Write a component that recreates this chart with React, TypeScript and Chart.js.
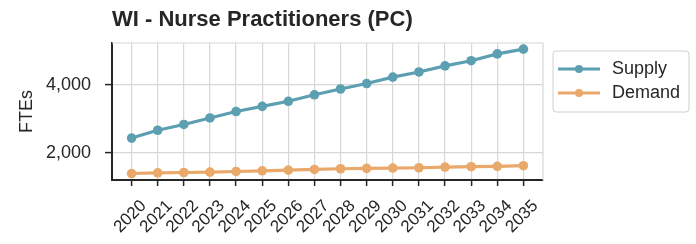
import React, { useEffect, useRef } from "react";
import { Chart, registerables } from "chart.js";

Chart.register(...registerables);

const years = [2020, 2021, 2022, 2023, 2024, 2025, 2026, 2027, 2028, 2029, 2030, 2031, 2032, 2033, 2034, 2035];
const supply = [2440, 2670, 2840, 3030, 3220, 3370, 3520, 3710, 3880, 4040, 4230, 4380, 4560, 4710, 4910, 5050];
const demand = [1400, 1420, 1430, 1440, 1460, 1480, 1500, 1520, 1540, 1550, 1560, 1570, 1590, 1600, 1610, 1630];
const yTicks = [2000, 4000];
const seriesNames = ["Supply", "Demand"];
const titleText = "WI - Nurse Practitioners (PC)";
const yLabel = "FTEs";

const SUPPLY_COLOR = "#5c9fb1";
const DEMAND_COLOR = "#eaa96b";
const TEXT_COLOR = "#262626";
const GRID_COLOR = "#d8d8d8";
const FONT = "'Liberation Sans', Arial, sans-serif";

const decorPlugin = {
  id: "decor",
  beforeDatasetsDraw(chart: any) {
    const { ctx, chartArea } = chart;
    ctx.save();
    ctx.strokeStyle = GRID_COLOR;
    ctx.lineWidth = 1.2;
    ctx.beginPath();
    ctx.moveTo(chartArea.left, chartArea.top);
    ctx.lineTo(chartArea.right, chartArea.top);
    ctx.lineTo(chartArea.right, chartArea.bottom);
    ctx.stroke();
    ctx.restore();
  },
  afterDraw(chart: any) {
    const { ctx, chartArea } = chart;
    ctx.save();
    // title
    ctx.fillStyle = TEXT_COLOR;
    ctx.font = `bold 22px ${FONT}`;
    ctx.textAlign = "left";
    ctx.textBaseline = "middle";
    ctx.fillText(titleText, chartArea.left, 20);

    // legend
    const lx = chartArea.right + 10;
    const ly = 51;
    const lw = 136;
    const lh = 61;
    ctx.strokeStyle = "#d0d0d0";
    ctx.lineWidth = 1;
    ctx.fillStyle = "rgba(255,255,255,0.85)";
    const r = 3;
    ctx.beginPath();
    ctx.moveTo(lx + r, ly);
    ctx.lineTo(lx + lw - r, ly);
    ctx.arcTo(lx + lw, ly, lx + lw, ly + r, r);
    ctx.lineTo(lx + lw, ly + lh - r);
    ctx.arcTo(lx + lw, ly + lh, lx + lw - r, ly + lh, r);
    ctx.lineTo(lx + r, ly + lh);
    ctx.arcTo(lx, ly + lh, lx, ly + lh - r, r);
    ctx.lineTo(lx, ly + r);
    ctx.arcTo(lx, ly, lx + r, ly, r);
    ctx.closePath();
    ctx.fill();
    ctx.stroke();
    const colors = [SUPPLY_COLOR, DEMAND_COLOR];
    chart.data.datasets.forEach((ds: any, i: number) => {
      const y = ly + 18 + i * 24;
      ctx.strokeStyle = colors[i];
      ctx.lineWidth = 3;
      ctx.beginPath();
      ctx.moveTo(lx + 5, y);
      ctx.lineTo(lx + 47, y);
      ctx.stroke();
      ctx.fillStyle = colors[i];
      ctx.beginPath();
      ctx.arc(lx + 26, y, 4, 0, Math.PI * 2);
      ctx.fill();
      ctx.fillStyle = TEXT_COLOR;
      ctx.font = `18px ${FONT}`;
      ctx.textAlign = "left";
      ctx.textBaseline = "middle";
      ctx.fillText(ds.label, lx + 59, y);
    });
    ctx.restore();
  },
};

export default function App() {
  const ref = useRef<HTMLCanvasElement | null>(null);
  useEffect(() => {
    if (!ref.current) return;
    const chart = new Chart(ref.current, {
      type: "line",
      data: {
        datasets: [
          {
            label: seriesNames[0],
            data: years.map((x, i) => ({ x, y: supply[i] })),
            borderColor: SUPPLY_COLOR,
            backgroundColor: SUPPLY_COLOR,
            borderWidth: 3.2,
            pointRadius: 4.8,
            pointBorderWidth: 0,
          },
          {
            label: seriesNames[1],
            data: years.map((x, i) => ({ x, y: demand[i] })),
            borderColor: DEMAND_COLOR,
            backgroundColor: DEMAND_COLOR,
            borderWidth: 3.2,
            pointRadius: 4.8,
            pointBorderWidth: 0,
          },
        ],
      },
      options: {
        animation: false,
        responsive: false,
        layout: { padding: { top: 43, right: 153, left: 0, bottom: 0 } },
        plugins: {
          legend: { display: false },
          tooltip: { enabled: false },
          title: { display: false },
        },
        scales: {
          x: {
            type: "linear",
            min: 2019.25,
            max: 2035.75,
            afterBuildTicks: (scale: any) => {
              scale.ticks = years.map((v) => ({ value: v }));
            },
            afterFit: (scale: any) => {
              scale.height = 64;
            },
            ticks: {
              autoSkip: false,
              minRotation: 45,
              maxRotation: 45,
              color: TEXT_COLOR,
              font: { family: FONT, size: 17 },
              padding: 10,
              labelOffset: 12,
              callback: (v: any) => String(v),
            },
            grid: { color: GRID_COLOR, lineWidth: 1.2, tickLength: 6, tickColor: TEXT_COLOR, tickWidth: 1.5 },
            border: { color: TEXT_COLOR, width: 2 },
          },
          y: {
            min: 1210,
            max: 5230,
            afterBuildTicks: (scale: any) => {
              scale.ticks = yTicks.map((v) => ({ value: v }));
            },
            afterFit: (scale: any) => {
              scale.width = 112;
            },
            ticks: {
              color: TEXT_COLOR,
              font: { family: FONT, size: 18 },
              padding: 14,
            },
            grid: { color: GRID_COLOR, lineWidth: 1.2, tickLength: 7, tickColor: TEXT_COLOR, tickWidth: 1.5 },
            border: { color: TEXT_COLOR, width: 2 },
            title: {
              display: true,
              text: yLabel,
              color: TEXT_COLOR,
              font: { family: FONT, size: 18 },
              padding: { top: 16, bottom: 0 },
            },
          },
        },
      },
      plugins: [decorPlugin],
    });
    return () => chart.destroy();
  }, []);
  return (
    <div style={{ position: "fixed", left: 0, top: 0, width: 696, height: 244, background: "#fff" }}>
      <canvas ref={ref} width={696} height={244} style={{ width: 696, height: 244 }} />
    </div>
  );
}
